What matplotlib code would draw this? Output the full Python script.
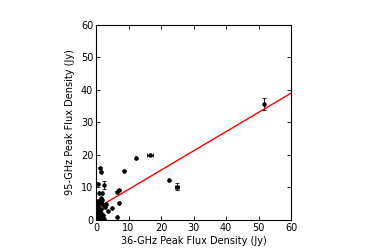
import matplotlib
matplotlib.use("Agg")
import matplotlib.pyplot as plt
import numpy as np

x36 = [51.8, 12.2, 16.6, 8.5, 22.3, 24.9, 6.6, 7.0, 7.2, 6.6, 4.9, 3.7,
       1.3, 1.6, 2.5, 0.5, 0.9, 1.9, 1.5, 1.8, 1.9, 2.5, 3.0, 2.9,
       0.3, 0.5, 0.7, 0.4, 0.6, 0.2, 0.8, 1.0, 1.2, 1.5, 1.3, 1.8, 2.0, 2.3,
       0.3, 0.6, 1.0, 0.1, 0.9, 1.6, 2.2, 2.6, 0.5, 1.1]
y95 = [35.6, 19.0, 19.9, 15.2, 12.2, 10.3, 8.7, 9.3, 5.3, 0.9, 3.7, 2.9,
       16.0, 14.9, 10.7, 11.1, 8.2, 8.2, 6.7, 6.2, 4.8, 4.6, 4.8, 4.1,
       5.5, 4.8, 4.0, 3.2, 2.5, 1.8, 1.2, 2.2, 1.5, 2.0, 0.8, 1.0, 0.5, 0.4,
       0.3, 0.6, 0.2, 1.0, 3.0, 3.5, 1.5, 0.3, 5.9, 5.5]
x_err = [0.2, 0.1, 0.8, 0.1, 0.1, 0.6, 0.1, 0.1, 0.1, 0.1, 0.1, 0.1,
         0.1, 0.1, 0.1, 0.1, 0.1, 0.1, 0.1, 0.1, 0.1, 0.1, 0.1, 0.1,
         0.1, 0.1, 0.1, 0.1, 0.1, 0.1, 0.1, 0.1, 0.1, 0.1, 0.1, 0.1, 0.1, 0.1,
         0.1, 0.1, 0.1, 0.1, 0.1, 0.1, 0.1, 0.1, 0.1, 0.1]
y_err = [1.8, 0.2, 0.2, 0.2, 0.2, 1.0, 0.2, 0.2, 0.2, 0.1, 0.1, 0.1,
         0.2, 0.2, 1.2, 0.2, 0.2, 0.2, 0.2, 0.2, 0.2, 0.2, 0.2, 0.2,
         0.1, 0.1, 0.1, 0.1, 0.1, 0.1, 0.1, 0.1, 0.1, 0.1, 0.1, 0.1, 0.1, 0.1,
         0.1, 0.1, 0.1, 0.1, 0.1, 0.1, 0.1, 0.1, 0.1, 0.1]
fit_slope = 0.592
fit_intercept = 3.5
xlim = (0, 60)
ylim = (0, 60)

fig = plt.figure(figsize=(3.78, 2.52), dpi=100)
ax = fig.add_axes([0.254, 0.127, 0.516, 0.774])

ax.errorbar(x36, y95, xerr=x_err, yerr=y_err, fmt='o', color='black',
            ms=2.2, elinewidth=0.6, capsize=1.5, capthick=0.6)
xf = np.array(xlim)
ax.plot(xf, fit_slope * xf + fit_intercept, color='red', lw=1)

ax.set_xlim(*xlim)
ax.set_ylim(*ylim)
ax.set_xticks(np.arange(0, 61, 10))
ax.set_yticks(np.arange(0, 61, 10))
ax.tick_params(direction='in', top=True, right=True, labelsize=7, length=3, width=0.6, pad=2)
for s in ax.spines.values():
    s.set_linewidth(0.8)
ax.set_xlabel('36-GHz Peak Flux Density (Jy)', fontsize=7, labelpad=2)
ax.set_ylabel('95-GHz Peak Flux Density (Jy)', fontsize=7, labelpad=4)

fig.savefig('out.png', dpi=100)
